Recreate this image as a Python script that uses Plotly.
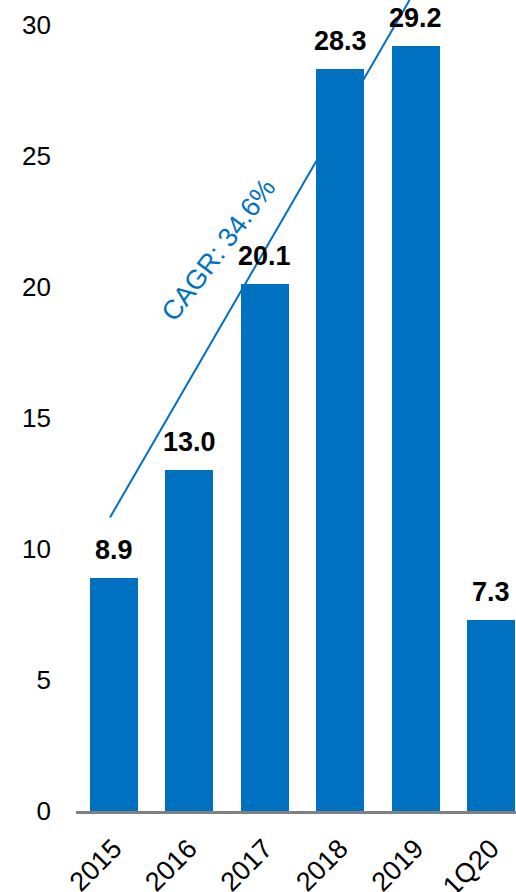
import plotly.graph_objects as go

categories = ["2015", "2016", "2017", "2018", "2019", "1Q20"]
values = [8.9, 13.0, 20.1, 28.3, 29.2, 7.3]
value_labels = ["8.9", "13.0", "20.1", "28.3", "29.2", "7.3"]
y_ticks = [0, 5, 10, 15, 20, 25, 30]
cagr_text = "CAGR: 34.6%"
cagr_start = (-0.05, 11.2)
cagr_end = (3.92, 30.95)
cagr_label_pos = (1.39, 21.4)

BLUE = "#0070C0"
FONT = "Liberation Sans, Arial, sans-serif"

fig = go.Figure()
fig.add_trace(go.Bar(
    x=list(range(len(categories))), y=values,
    marker=dict(color=BLUE, line=dict(width=0)),
    width=0.636, hoverinfo="skip",
))

for i, (v, t) in enumerate(zip(values, value_labels)):
    fig.add_annotation(x=i, y=v, text=f"<b>{t}</b>", showarrow=False,
                       yanchor="bottom", yshift=11,
                       font=dict(family=FONT, size=27, color="black"))

fig.add_shape(type="line", xref="x", yref="y",
              x0=cagr_start[0], y0=cagr_start[1], x1=cagr_end[0], y1=cagr_end[1],
              line=dict(color=BLUE, width=2))

fig.add_annotation(x=cagr_label_pos[0], y=cagr_label_pos[1], text=cagr_text,
                   showarrow=False, textangle=-53,
                   font=dict(family=FONT, size=27, color=BLUE))

fig.update_layout(
    width=516, height=892,
    margin=dict(l=76, r=0, t=0, b=81),
    paper_bgcolor="white", plot_bgcolor="white",
    showlegend=False,
    bargap=0,
)
fig.update_xaxes(
    range=[-0.5, 5.33],
    tickmode="array", tickvals=list(range(len(categories))), ticktext=categories,
    tickangle=-45, tickfont=dict(family=FONT, size=27, color="black"),
    showline=True, linecolor="#808080", linewidth=3,
    showgrid=False, zeroline=False, ticks="", ticklabelstandoff=8,
    automargin=False,
)
fig.update_yaxes(
    range=[0, 30.95],
    tickmode="array", tickvals=y_ticks,
    tickfont=dict(family=FONT, size=26, color="black"),
    showline=False, showgrid=False, zeroline=False, ticks="",
    ticklabelstandoff=24, automargin=False,
)

fig.write_html("out.html", config={"displayModeBar": False},
               post_script="document.body.style.margin='0';document.body.style.overflow='hidden';")
